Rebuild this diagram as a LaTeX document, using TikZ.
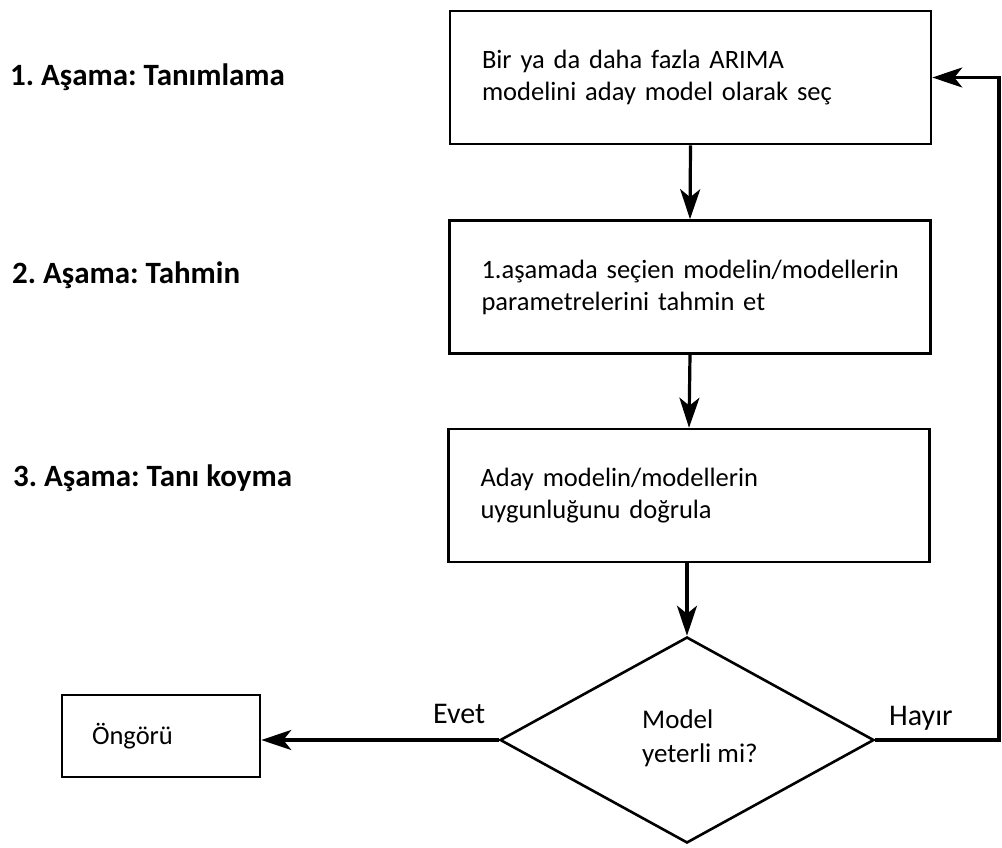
\documentclass[tikz,border=0pt]{standalone}
\usepackage{fontspec}
\setmainfont{Carlito}
\frenchspacing
\usetikzlibrary{shapes.geometric,arrows.meta}
\begin{document}
\begin{tikzpicture}[x=1pt,y=-1pt,
  procbox/.style={draw, line width=2.6pt, rectangle, minimum width=481pt, minimum height=133pt,
    text width=417pt, inner xsep=32pt, inner ysep=0pt, align=left, font=\fontsize{26.5}{32}\selectfont},
  outbox/.style={draw, line width=2.6pt, rectangle, minimum width=198pt, minimum height=82pt,
    text width=138pt, inner xsep=30pt, inner ysep=0pt, align=left, font=\fontsize{26.5}{32}\selectfont},
  decision/.style={draw, line width=2.6pt, diamond, minimum width=374pt, minimum height=206pt, inner sep=0pt},
  dectext/.style={anchor=west, inner sep=0pt, align=left, font=\fontsize{27}{34}\selectfont},
  stagelabel/.style={anchor=base west, inner sep=0pt, font=\fontsize{31}{36}\selectfont\bfseries},
  edgelabel/.style={anchor=base west, inner sep=0pt, font=\fontsize{30}{36}\selectfont},
  arr/.style={line width=3.2pt, -{Stealth[length=30pt,width=20pt,inset=8pt]}}
]
\fill[white] (0,0) rectangle (1002,847);
\useasboundingbox (0,0) rectangle (1002,847);

% stage labels
\node[stagelabel] (s1) at (10,85) {1. Aşama: Tanımlama};
\node[stagelabel] (s2) at (12,283) {2. Aşama: Tahmin};
\node[stagelabel] (s3) at (13,486) {3. Aşama: Tanı koyma};

% process boxes
\node[procbox] (b1) at (690.5,77.5) {\mbox{Bir ya da daha fazla ARIMA}\\\mbox{modelini aday model olarak seç}};
\node[procbox] (b2) at (690,287) {\mbox{1.aşamada seçien modelin/modellerin}\\\mbox{parametrelerini tahmin et}};
\node[procbox] (b3) at (689,495.5) {\mbox{Aday modelin/modellerin}\\\mbox{uygunluğunu doğrula}};

% decision
\node[decision] (dia) at (687,740) {};
\node[dectext] (dtext) at (642,738.5) {Model\\yeterli mi?};

% output box
\node[outbox] (ong) at (161,736) {Öngörü};

% labels
\node[edgelabel] (evet) at (433,723) {Evet};
\node[edgelabel] (hayir) at (889,725) {Hayır};

% connectors
\coordinate (retx) at (999,0);
\draw[arr] (b1.south) -- (b2.north);
\draw[arr] (b2.south) -- (b3.north);
\draw[arr] (b3.south -| dia.north) -- (dia.north);
\draw[arr] (dia.west) -- (dia.west -| ong.east);
\draw[arr] (dia.east) -- (dia.east -| retx) |- (b1.east);
\end{tikzpicture}
\end{document}
